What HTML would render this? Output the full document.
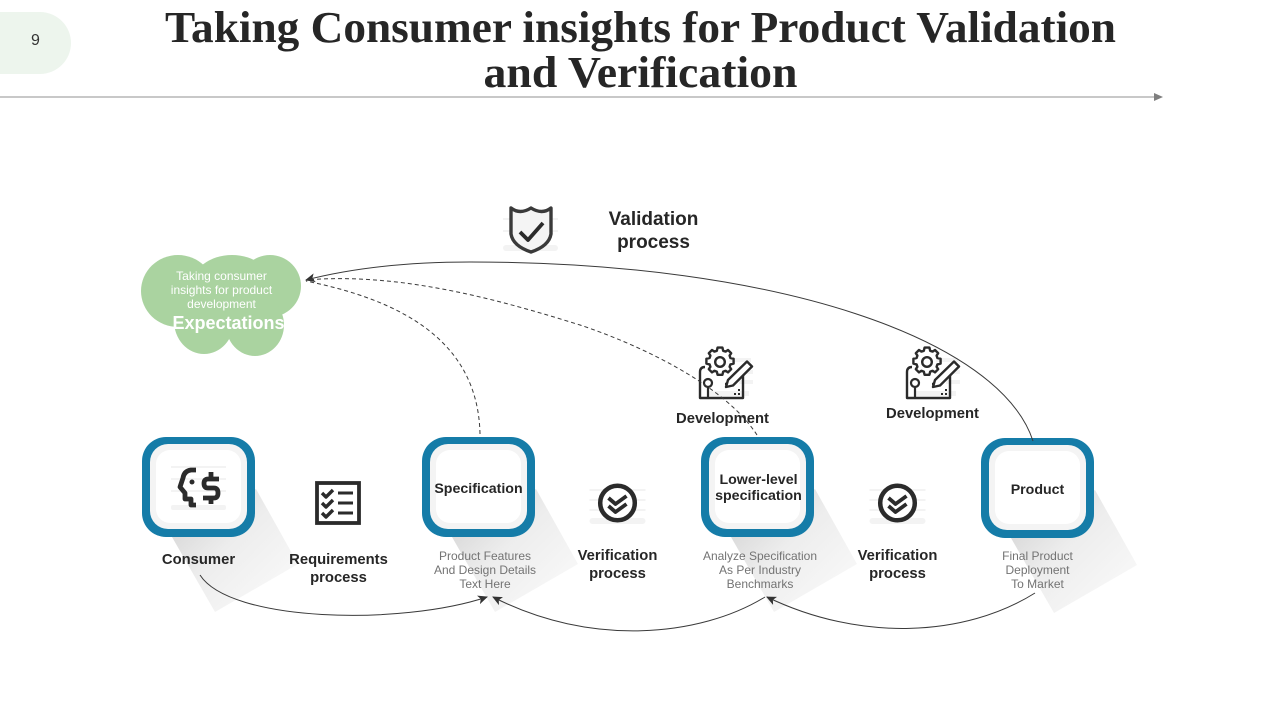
<!DOCTYPE html>
<html><head><meta charset="utf-8"><title>Consumer insights</title>
<style>html,body{margin:0;padding:0;background:#fff;width:1280px;height:720px;overflow:hidden}svg{display:block}
.s{font-family:"Liberation Sans",sans-serif}
.b{font-family:"Liberation Sans",sans-serif;font-weight:bold;fill:#262626;text-anchor:middle}
.g{font-family:"Liberation Sans",sans-serif;font-size:12px;fill:#737373;text-anchor:middle}
.i{fill:none;stroke:#2b2b2b;stroke-linecap:butt;stroke-linejoin:round}
.h{fill:#f3f3f3}
</style></head><body>
<svg width="1280" height="720" viewBox="0 0 1280 720" xmlns="http://www.w3.org/2000/svg">
<defs>
<linearGradient id="sh" x1="0" y1="0" x2="1" y2="1"><stop offset="0" stop-color="#cdcdcd"/><stop offset=".45" stop-color="#ededed"/><stop offset="1" stop-color="#fcfcfc"/></linearGradient>
<marker id="a" viewBox="0 0 10 10" refX="9" refY="5" markerWidth="10" markerHeight="10" markerUnits="userSpaceOnUse" orient="auto"><path d="M0 0.500L10 5L0 9.500L2.500 5Z" fill="#333"/></marker>
<g id="box"><path d="M30 100L73 175L156 127L114 52Z" fill="url(#sh)"/>
<rect x="0" y="0" width="113" height="100" rx="24" fill="#157ca8"/>
<rect x="8" y="7" width="97" height="85" rx="18" fill="#f4f4f4"/>
<rect x="14" y="13" width="85" height="73" rx="14" fill="#fff"/></g>
<g id="ver"><g class="h"><rect x="-28" y="15" width="56" height="6" rx="3"/><rect x="-28" y="-14" width="56" height="2"/><rect x="-28" y="-4" width="56" height="2"/><rect x="-28" y="6" width="56" height="2"/></g>
<circle r="17.300" fill="#fff" stroke="#2b2b2b" stroke-width="4.500"/>
<path class="i" stroke-width="3.800" d="M-9 -5L-2 1L9 -7M-9 3L-2 9L9 1"/></g>
<g id="dev"><g class="h"><rect x="30" y="12" width="22" height="4"/><rect x="40" y="24" width="14" height="4"/><rect x="40" y="34" width="14" height="4"/><rect x="10" y="45" width="40" height="5"/></g>
<path class="i" stroke-width="2.400" d="M6 21Q1 21 1 26V52H44V29M26 38H33"/>
<circle cx="9" cy="37" r="4" class="i" stroke-width="2.200" fill="#fff"/><path class="i" stroke-width="2.200" d="M9 41V52"/>
<g transform="translate(21 16) scale(.8) translate(-21 -17)"><path class="i" stroke-width="3" fill="#fff" d="M18 -1h6l1 4 3 1 3-2 4 4-2 3 1 3 4 1v6l-4 1-1 3 2 3-4 4-3-2-3 1-1 4h-6l-1-4-3-1-3 2-4-4 2-3-1-3-4-1v-6l4-1 1-3-2-3 4-4 3 2 3-1z"/>
<circle cx="21" cy="17" r="6" class="i" stroke-width="3"/></g>
<path d="M29 34L48 15.500L53 20.500L34 39.500L27 41Z" fill="#fff" stroke="#2b2b2b" stroke-width="2.400" stroke-linejoin="round"/>
<path d="M35 49h2v-2h-2zM39 49h2v-2h-2zM39 45h2v-2h-2z" fill="#2b2b2b"/></g>
</defs>

<path d="M0 12H40A31 31 0 0 1 40 74H0Z" fill="#edf5ed"/>
<text x="35.500" y="45" font-size="16" fill="#333" text-anchor="middle" class="s">9</text>
<text x="640.500" y="42" font-family="'Liberation Serif',serif" font-weight="bold" font-size="44" fill="#262626" text-anchor="middle" textLength="951" lengthAdjust="spacingAndGlyphs">Taking Consumer insights for Product Validation</text>
<text x="640.500" y="87" font-family="'Liberation Serif',serif" font-weight="bold" font-size="44" fill="#262626" text-anchor="middle" textLength="314" lengthAdjust="spacingAndGlyphs">and Verification</text>
<line x1="0" y1="97" x2="1155" y2="97" stroke="#a6a6a6" stroke-width="1.200"/>
<path d="M1154 93L1163 97L1154 101Z" fill="#7f7f7f"/>

<g style="fill:#aad3a0">
<ellipse cx="178" cy="291" rx="37" ry="36"/><ellipse cx="232" cy="287" rx="41" ry="32"/><ellipse cx="270" cy="286" rx="31" ry="31"/>
<ellipse cx="204" cy="321" rx="30" ry="33"/><ellipse cx="255" cy="325" rx="29" ry="31"/><rect x="190" y="285" width="75" height="40"/>
</g>
<g class="s" font-size="12" fill="#fff" text-anchor="middle"><text x="221.500" y="280">Taking consumer</text><text x="221.500" y="294">insights for product</text><text x="221.500" y="308">development</text></g>
<text x="172.500" y="329" class="s" font-size="18" font-weight="bold" fill="#fff">Expectations</text>

<use href="#box" x="142" y="437"/><use href="#box" x="422" y="437"/><use href="#box" x="701" y="437"/><use href="#box" x="981" y="438"/>

<g class="h"><rect x="503" y="245" width="55" height="6" rx="3"/><rect x="503" y="218" width="55" height="2"/><rect x="503" y="230" width="55" height="2"/></g>
<path d="M511 208Q520 215 531 208Q542 215 551 208V234Q549 246 531 252Q513 246 511 234Z" fill="#f4f4f4" stroke="#3a3a3a" stroke-width="3.400" stroke-linejoin="round"/>
<path class="i" stroke-width="3.800" d="M520 232L528 240L543 223"/>
<g class="b" font-size="19"><text x="653.500" y="225">Validation</text><text x="653.500" y="248">process</text></g>

<g class="h"><rect x="171" y="505" width="55" height="5" rx="2"/><rect x="171" y="466" width="55" height="2"/><rect x="171" y="478" width="55" height="2"/><rect x="171" y="490" width="55" height="2"/></g>
<path class="i" stroke-width="4.800" d="M196 470H191Q184 471 183 478L180 487L185 493V499H191V505H196"/>
<circle cx="192" cy="482" r="2.500" fill="#2b2b2b"/>
<path class="i" stroke-width="4.800" d="M219 479H208Q204 479 204 483.500T208 488H214Q218 488 218 493T214 498H203M211 472V479M211 498V504"/>

<use href="#dev" x="699" y="346"/><use href="#dev" x="906" y="346"/>
<rect x="317" y="483" width="42" height="40" fill="#fff" stroke="#2b2b2b" stroke-width="3.800"/>
<path class="i" stroke-width="3.400" d="M322 493L326 497L333 490M322 503L326 507L333 500M322 513L326 517L333 510"/>
<path stroke="#2b2b2b" stroke-width="3" d="M338 493H353M338 503H353M338 513H353"/>
<use href="#ver" x="617.500" y="503"/><use href="#ver" x="897.500" y="503"/>

<g fill="none" stroke="#3a3a3a" stroke-width="1">
<path d="M1033 441C1000 340 780 262 470 262C400 262 345 270 306 280" marker-end="url(#a)"/>
<path d="M200 575C230 622 400 626 487 597" marker-end="url(#a)"/>
<path d="M765 597C700 637 590 647 493 597" marker-end="url(#a)"/>
<path d="M1035 593C965 637 860 642 767 597" marker-end="url(#a)"/>
<g stroke-dasharray="4 3"><path d="M757 435C725 385 640 345 580 325C500 300 400 272 306 280"/>
<path d="M480 434C478 340 400 300 306 281"/></g>
</g>

<g class="b" font-size="14.800">
<text x="198.500" y="564">Consumer</text>
<text x="338.500" y="564">Requirements</text><text x="338.500" y="582">process</text>
<text x="617.500" y="560">Verification</text><text x="617.500" y="578">process</text>
<text x="897.500" y="560">Verification</text><text x="897.500" y="578">process</text>
<text x="722.500" y="423">Development</text><text x="932.500" y="418">Development</text>
</g>
<g class="b" font-size="14.200">
<text x="478.500" y="493">Specification</text>
<text x="758.500" y="484">Lower-level</text><text x="758.500" y="500">specification</text>
<text x="1037.500" y="494">Product</text>
</g>
<g class="g">
<text x="485" y="560">Product Features</text><text x="485" y="574">And Design Details</text><text x="485" y="588">Text Here</text>
<text x="760" y="560">Analyze  Specification</text><text x="760" y="574">As Per Industry</text><text x="760" y="588">Benchmarks</text>
<text x="1037.500" y="560">Final Product</text><text x="1037.500" y="574">Deployment</text><text x="1037.500" y="588">To Market</text>
</g>
</svg>
</body></html>
